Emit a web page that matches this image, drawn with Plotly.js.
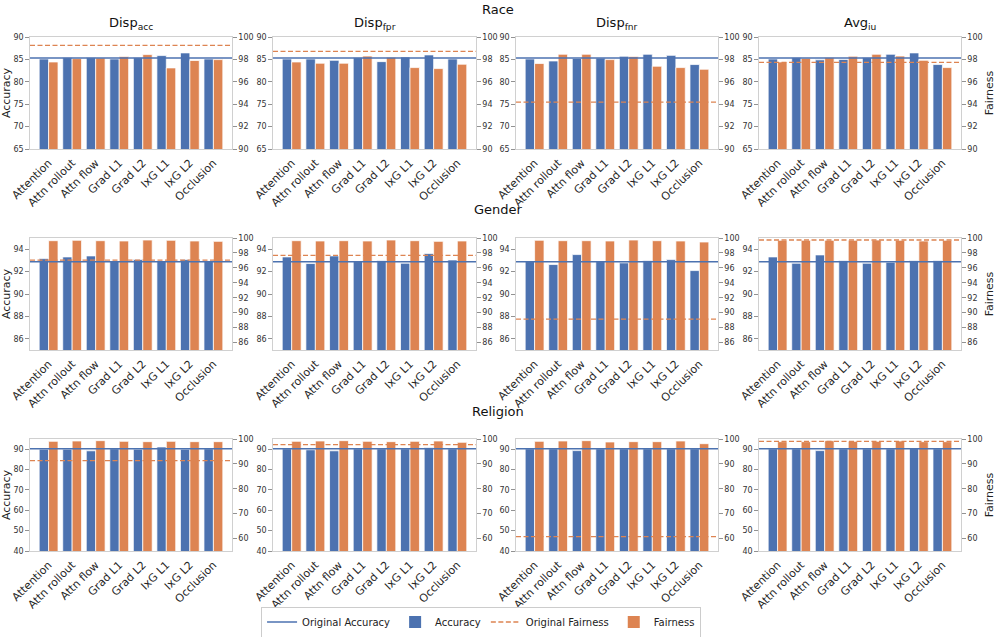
<!DOCTYPE html>
<html>
<head>
<meta charset="utf-8">
<script src="https://cdn.plot.ly/plotly-3.0.1.min.js"></script>
<style>html,body{margin:0;padding:0;background:#fff;}#chart{width:996px;height:637px;}</style>
</head>
<body>
<div id="chart"></div>
<script>
// ---------- DATA ----------
const methods = ['Attention', 'Attn rollout', 'Attn flow', 'Grad L1', 'Grad L2', 'IxG L1', 'IxG L2', 'Occlusion'];
const metrics = ['Disp<sub>acc</sub>', 'Disp<sub>fpr</sub>', 'Disp<sub>fnr</sub>', 'Avg<sub>iu</sub>'];
const groups = ['Race', 'Gender', 'Religion'];

// Race (one array per metric)
const raceAccuracy = [
  [85.1, 85.4, 85.4, 85.1, 85.4, 85.85, 86.45, 85.1],
  [85.1, 85.1, 84.8, 85.4, 84.5, 85.55, 86.0, 85.1],
  [85.1, 84.65, 85.2, 85.3, 85.7, 86.15, 85.9, 83.85],
  [85.1, 85.4, 84.9, 85.0, 85.4, 86.15, 86.45, 83.85]
];
const raceFairness = [
  [97.77, 98.07, 98.13, 98.25, 98.43, 97.24, 97.9, 97.98],
  [97.77, 97.66, 97.66, 98.3, 98.19, 97.27, 97.18, 97.57],
  [97.63, 98.46, 98.46, 97.98, 98.25, 97.39, 97.27, 97.12],
  [97.77, 98.1, 98.16, 98.28, 98.46, 98.3, 97.92, 97.27]
];
const raceOrigAccuracy = 85.33;
const raceOrigFairness = [99.26, 98.72, 94.18, 97.74];

// Gender
const genderAccuracy = [
  [93.16, 93.31, 93.4, 92.93, 93.07, 92.9, 93.07, 92.93],
  [93.31, 92.72, 93.4, 92.93, 92.96, 92.75, 93.61, 93.04],
  [92.9, 92.63, 93.52, 92.9, 92.78, 92.99, 93.07, 92.09],
  [93.31, 92.75, 93.49, 92.96, 92.75, 92.84, 92.99, 92.96]
];
const genderFairness = [
  [99.64, 99.69, 99.64, 99.6, 99.73, 99.69, 99.6, 99.55],
  [99.64, 99.6, 99.64, 99.6, 99.73, 99.64, 99.55, 99.6],
  [99.69, 99.64, 99.64, 99.6, 99.73, 99.64, 99.6, 99.46],
  [99.69, 99.69, 99.69, 99.69, 99.73, 99.69, 99.6, 99.69]
];
const genderOrigAccuracy = 92.87;
const genderOrigFairness = [97.04, 97.67, 89.14, 99.73];

// Religion
const religionAccuracy = [
  [90.0, 90.0, 89.2, 90.2, 90.0, 91.1, 90.0, 90.2],
  [90.2, 89.7, 89.2, 90.2, 90.2, 90.2, 90.65, 90.2],
  [90.2, 90.2, 89.3, 90.2, 90.2, 90.2, 90.2, 90.2],
  [90.2, 90.2, 89.3, 90.2, 90.2, 90.2, 90.3, 90.2]
];
const religionFairness = [
  [99.06, 99.2, 99.33, 99.06, 98.93, 99.06, 98.93, 98.93],
  [99.06, 99.2, 99.33, 99.06, 98.93, 99.06, 99.2, 98.66],
  [99.06, 99.2, 99.33, 98.8, 98.93, 98.93, 99.2, 98.12],
  [98.93, 98.93, 99.33, 99.06, 99.06, 99.2, 98.93, 98.93]
];
const religionOrigAccuracy = 90.2;
const religionOrigFairness = [91.28, 97.72, 60.8, 99.06];

// Axis ranges / ticks per group
const accRanges = [[65, 90], [85, 95], [40, 95]];
const fairRanges = [[90, 100], [85, 100], [55, 100]];
const accTicks = [[65, 70, 75, 80, 85, 90], [86, 88, 90, 92, 94], [40, 50, 60, 70, 80, 90]];
const fairTicks = [[90, 92, 94, 96, 98, 100], [86, 88, 90, 92, 94, 96, 98, 100], [60, 70, 80, 90, 100]];

// ---------- BUILD ----------
const BLUE = '#4C72B0', ORANGE = '#DD8452';
const DASH = '5px,2.5px';
const accAll = [raceAccuracy, genderAccuracy, religionAccuracy];
const fairAll = [raceFairness, genderFairness, religionFairness];
const origAccAll = [raceOrigAccuracy, genderOrigAccuracy, religionOrigAccuracy];
const origFairAll = [raceOrigFairness, genderOrigFairness, religionOrigFairness];

const W = 996, H = 637;
const colPx = [[30, 232], [273, 476], [516, 718], [759, 961]];
const rowPx = [[37, 149], [238, 350], [439, 551]];
const colDom = colPx.map(p => [p[0] / W, p[1] / W]);
const rowDom = rowPx.map(p => [1 - p[1] / H, 1 - p[0] / H]);
const FRAME = '#d0d0d0';
const FONT = 'DejaVu Sans, sans-serif';
const sfx = n => (n === 1 ? '' : String(n));

const traces = [];
const layout = {
  width: W, height: H,
  margin: {l: 0, r: 0, t: 0, b: 0, autoexpand: false},
  paper_bgcolor: '#fff', plot_bgcolor: '#fff',
  font: {family: FONT, color: '#262626'},
  showlegend: true,
  legend: {
    orientation: 'h', traceorder: 'normal',
    x: 0.483, xanchor: 'center', y: 1 - 622 / H, yanchor: 'middle',
    bordercolor: '#cccccc', borderwidth: 1, font: {size: 10, color: '#222'},
    itemwidth: 30, bgcolor: '#fff'
  },
  shapes: [], annotations: []
};

for (let r = 0; r < 3; r++) {
  for (let c = 0; c < 4; c++) {
    const k = r * 4 + c;
    const xn = k + 1, yl = 2 * k + 1, yr = 2 * k + 2;
    const xid = 'x' + sfx(xn), ylid = 'y' + sfx(yl), yrid = 'y' + sfx(yr);

    layout['xaxis' + sfx(xn)] = {
      domain: colDom[c], anchor: ylid, type: 'category',
      range: [-0.79, 7.79], tickangle: -45, ticks: 'outside', ticklen: 2, tickcolor: 'rgba(0,0,0,0)',
      tickfont: {size: 11, color: '#262626'},
      showline: true, linecolor: FRAME, linewidth: 1.2, mirror: true,
      showgrid: false, zeroline: false, fixedrange: true
    };
    const yL = {
      domain: rowDom[r], anchor: xid, side: 'left',
      range: accRanges[r], tickvals: accTicks[r], ticks: 'outside', ticklen: 3.5,
      tickcolor: '#777', tickwidth: 0.8, tickfont: {size: 8, color: '#333'},
      showline: true, linecolor: FRAME, linewidth: 1.2,
      showgrid: false, zeroline: false, fixedrange: true
    };
    if (c === 0) yL.title = {text: 'Accuracy', font: {size: 11, color: '#222'}, standoff: 4};
    layout['yaxis' + sfx(yl)] = yL;
    const yR = {
      overlaying: ylid, anchor: xid, side: 'right',
      range: fairRanges[r], tickvals: fairTicks[r], ticks: 'outside', ticklen: 3.5,
      tickcolor: '#777', tickwidth: 0.8, tickfont: {size: 8, color: '#333'},
      showline: true, linecolor: FRAME, linewidth: 1.2,
      showgrid: false, zeroline: false, fixedrange: true
    };
    if (c === 3) yR.title = {text: 'Fairness', font: {size: 11, color: '#222'}, standoff: 4};
    layout['yaxis' + sfx(yr)] = yR;

    traces.push({
      type: 'bar', x: methods, y: accAll[r][c], xaxis: xid, yaxis: ylid,
      width: 0.4, offset: -0.4, name: 'Accuracy', showlegend: false,
      marker: {color: BLUE, line: {color: 'rgba(255,255,255,0.75)', width: 1}},
      hoverinfo: 'y'
    });
    traces.push({
      type: 'bar', x: methods, y: fairAll[r][c], xaxis: xid, yaxis: yrid,
      width: 0.4, offset: 0, name: 'Fairness', showlegend: false,
      marker: {color: ORANGE, line: {color: 'rgba(255,255,255,0.75)', width: 1}},
      hoverinfo: 'y'
    });

    layout.shapes.push({
      type: 'line', xref: xid + ' domain', yref: ylid, x0: 0, x1: 1,
      y0: origAccAll[r], y1: origAccAll[r], line: {color: BLUE, width: 1.5}
    });
    layout.shapes.push({
      type: 'line', xref: xid + ' domain', yref: yrid, x0: 0, x1: 1,
      y0: origFairAll[r][c], y1: origFairAll[r][c], line: {color: ORANGE, width: 1.3, dash: DASH}
    });

    if (r === 0) {
      layout.annotations.push({
        text: metrics[c], xref: 'paper', yref: 'paper',
        x: (colDom[c][0] + colDom[c][1]) / 2, y: 1 - 23 / H,
        xanchor: 'center', yanchor: 'middle', showarrow: false,
        font: {size: 13, color: '#111'}
      });
    }
  }
  layout.annotations.push({
    text: groups[r], xref: 'paper', yref: 'paper',
    x: 0.5, y: 1 - [10, 210, 411][r] / H, xanchor: 'center', yanchor: 'middle',
    showarrow: false, font: {size: 13, color: '#111'}
  });
}

// legend-only entries (order: Original Accuracy, Accuracy, Original Fairness, Fairness)
traces.push({type: 'scatter', mode: 'lines', x: [null], y: [null], name: 'Original Accuracy',
  line: {color: BLUE, width: 1.5}, showlegend: true, xaxis: 'x', yaxis: 'y'});
traces.push({type: 'bar', x: [null], y: [null], name: 'Accuracy', marker: {color: BLUE},
  showlegend: true, xaxis: 'x', yaxis: 'y'});
traces.push({type: 'scatter', mode: 'lines', x: [null], y: [null], name: 'Original Fairness',
  line: {color: ORANGE, width: 1.3, dash: DASH}, showlegend: true, xaxis: 'x', yaxis: 'y'});
traces.push({type: 'bar', x: [null], y: [null], name: 'Fairness', marker: {color: ORANGE},
  showlegend: true, xaxis: 'x', yaxis: 'y'});

Plotly.newPlot('chart', traces, layout, {displayModeBar: false, staticPlot: true});
</script>
</body>
</html>
